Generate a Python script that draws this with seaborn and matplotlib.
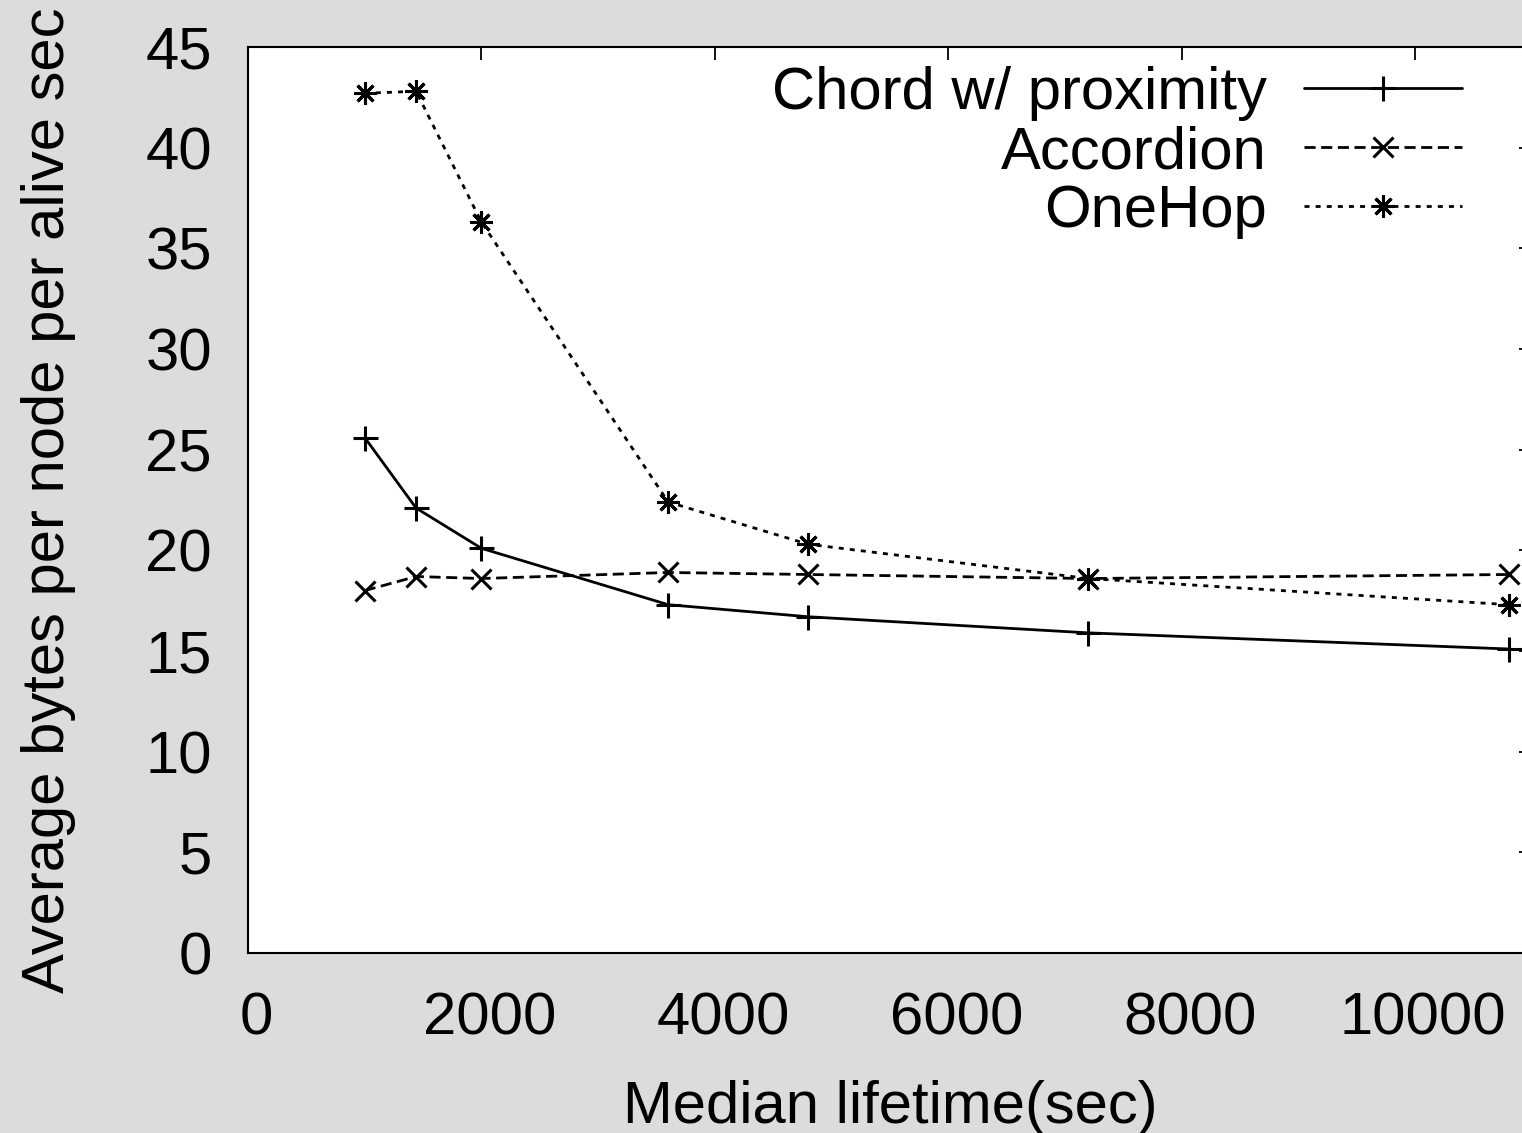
import matplotlib
matplotlib.use("Agg")
import matplotlib.pyplot as plt
import matplotlib.transforms as mtransforms
import seaborn as sns

lifetimes = [1000, 1440, 2000, 3600, 4800, 7200, 10800]
chord = [25.6, 22.1, 20.1, 17.3, 16.7, 15.9, 15.1]
accordion = [18.0, 18.7, 18.6, 18.9, 18.8, 18.6, 18.8]
onehop = [42.7, 42.8, 36.3, 22.4, 20.3, 18.6, 17.3]
series_names = ["Chord w/ proximity", "Accordion", "OneHop"]
x_ticks = [0, 2000, 4000, 6000, 8000, 10000]
y_ticks = [0, 5, 10, 15, 20, 25, 30, 35, 40, 45]

sns.set_theme(style="white")
plt.rcParams['font.family'] = ['Liberation Sans', 'DejaVu Sans']

bg = '#dcdcdc'
fig = plt.figure(figsize=(15.22, 11.33), dpi=100, facecolor=bg)
W, H = 1522, 1133
left, right, top, bottom = 248, 1532, 47, 953
ax = fig.add_axes([left / W, (H - bottom) / H, (right - left) / W, (bottom - top) / H])
ax.set_facecolor('white')

fs = 43
styles = [
    dict(marker='+', markersize=18, linestyle='-'),
    dict(marker='x', markersize=14, linestyle=(0, (4.0, 2.0))),
    dict(marker=(8, 2, 0), markersize=16, linestyle=(0, (1.8, 2.2))),
]
for name, vals, st in zip(series_names, [chord, accordion, onehop], styles):
    sns.lineplot(x=lifetimes, y=vals, ax=ax, color='black', linewidth=2.0,
                 markeredgewidth=2.2, markeredgecolor='black', label=name,
                 **st)

ax.set_xlim(0, 11000)
ax.set_ylim(0, 45)
ax.set_xticks(x_ticks)
ax.set_yticks(y_ticks)
ax.tick_params(direction='in', length=9.5, width=1.3, top=True, right=True,
               labelsize=fs, colors='black', pad=28)
ax.tick_params(axis='y', pad=26)
offset = mtransforms.ScaledTranslation(8 / 100, 0, fig.dpi_scale_trans)
for lbl in ax.get_xticklabels():
    lbl.set_transform(lbl.get_transform() + offset)
for s in ax.spines.values():
    s.set_visible(True)
    s.set_color('black')
    s.set_linewidth(1.5)

ax.set_xlabel("Median lifetime(sec)", fontsize=fs, labelpad=24, color='black')
ax.set_ylabel("Average bytes per node per alive sec", fontsize=fs, labelpad=50, color='black')

leg = ax.legend(loc='upper right', bbox_to_anchor=(1462 / W, (H - 66) / H),
                bbox_transform=fig.transFigure, frameon=False, fontsize=fs,
                markerfirst=False, handlelength=2.65, handletextpad=0.62,
                labelspacing=0.07, borderaxespad=0, borderpad=0, numpoints=1)
for t in leg.get_texts():
    t.set_color('black')

fig.savefig("out.png", dpi=100, facecolor=bg)
